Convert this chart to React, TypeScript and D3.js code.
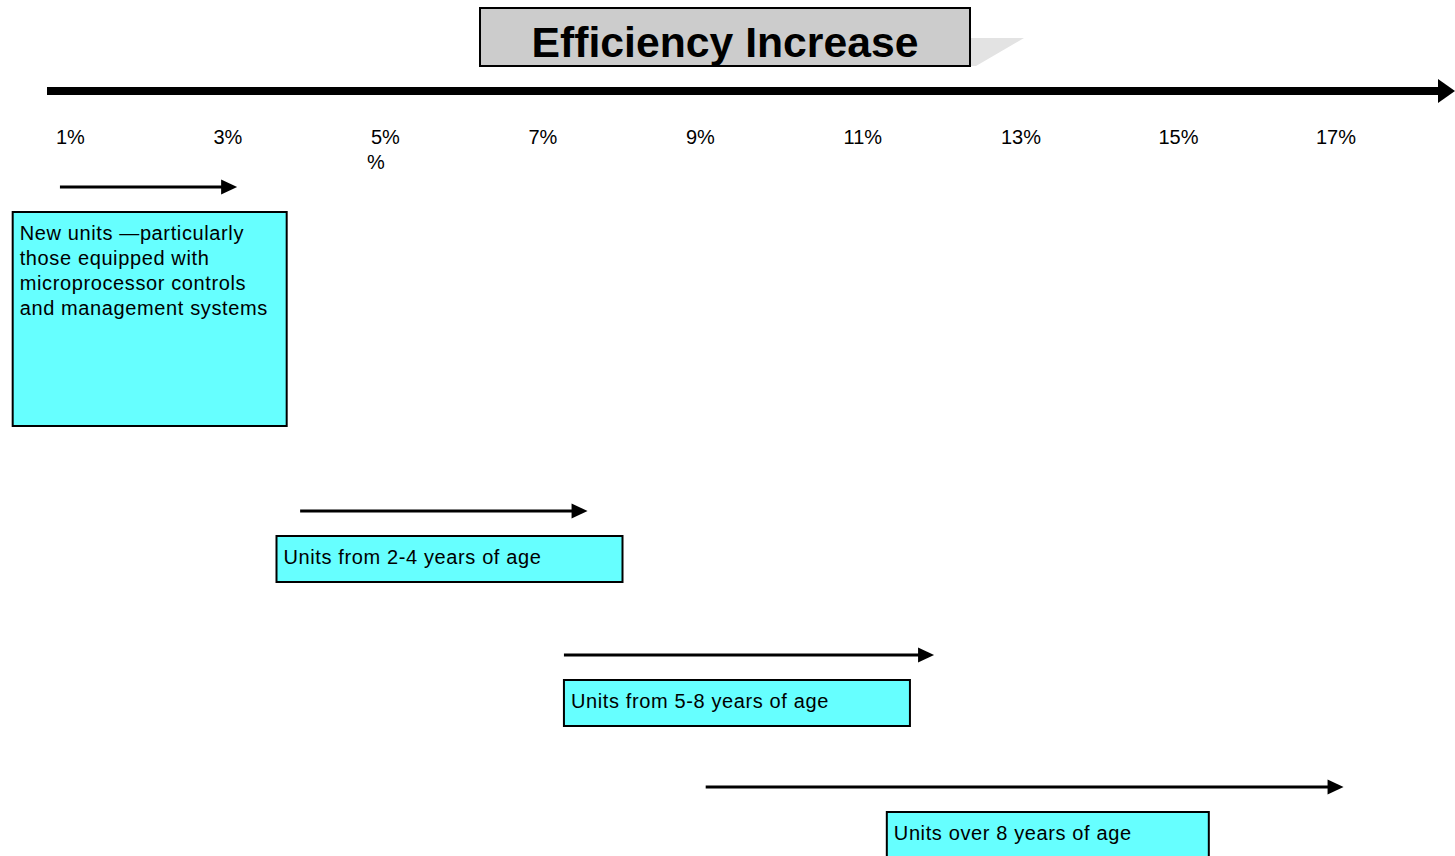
import React from 'react';
import * as d3 from 'd3';

// tick labels along the efficiency axis (percent)
const tickValues = [1, 3, 5, 7, 9, 11, 13, 15, 17];
// efficiency range for each unit group (percent)
const groups = [
  'New units \u2014particularly|those equipped with|microprocessor controls|and management systems',
  'Units from 2-4 years of age',
  'Units from 5-8 years of age',
  'Units over 8 years of age',
];
const rangeStart = [1.05, 4.1, 7.45, 9.25];
const rangeEnd = [3.3, 7.75, 12.15, 17.35];
const boxStart = [0.45, 3.8, 7.45, 11.55];

const W = 1455;
const H = 856;
const FONT = '"Liberation Sans", Arial, sans-serif';
// layout of the rows
const rowY = [187, 511, 655, 787];
const boxW = [274, 346, 346, 322];
const boxH = [214, 46, 46, 46];

class App extends React.Component {
  chartRef: any = null;

  componentDidMount() {
    const svg = d3.select(this.chartRef);
    svg.selectAll('*').remove();

    const x = d3.scaleLinear().domain([1, 17]).range([56, 1316]);

    svg.append('rect').attr('width', W).attr('height', H).attr('fill', '#fff');

    // title with its 3d shadow
    svg.append('polygon')
      .attr('points', '970,38 1024,38 976,66 970,66')
      .attr('fill', '#e3e3e3');
    svg.append('rect')
      .attr('x', 480).attr('y', 8).attr('width', 490).attr('height', 58)
      .attr('fill', '#cccccc').attr('stroke', '#000').attr('stroke-width', 2);
    svg.append('text')
      .attr('x', 725).attr('y', 56.5)
      .attr('text-anchor', 'middle')
      .attr('font-family', FONT).attr('font-weight', 'bold').attr('font-size', 42.7)
      .text('Efficiency Increase');

    // main axis arrow
    svg.append('line')
      .attr('x1', 47).attr('x2', 1440).attr('y1', 91).attr('y2', 91)
      .attr('stroke', '#000').attr('stroke-width', 8);
    svg.append('polygon')
      .attr('points', '1438,79 1455,91 1438,103')
      .attr('fill', '#000');

    // tick labels
    const ticks = svg.append('g').attr('font-family', FONT).attr('font-size', 20);
    ticks.selectAll('text')
      .data(tickValues)
      .enter()
      .append('text')
      .attr('x', d => x(d))
      .attr('y', 144)
      .text(d => d + '%');
    // stray second "%" under 5%
    ticks.append('text').attr('x', x(5) - 4).attr('y', 169).text('%');

    // group arrows and boxes
    const gs = svg.selectAll('g.grp')
      .data(groups)
      .enter()
      .append('g')
      .attr('class', 'grp');

    gs.append('line')
      .attr('x1', (d, i) => x(rangeStart[i]))
      .attr('x2', (d, i) => x(rangeEnd[i]) - 14)
      .attr('y1', (d, i) => rowY[i])
      .attr('y2', (d, i) => rowY[i])
      .attr('stroke', '#000').attr('stroke-width', 3);
    gs.append('polygon')
      .attr('points', (d, i) => {
        const tx = x(rangeEnd[i]);
        const y = rowY[i];
        return `${tx - 16},${y - 7.5} ${tx},${y} ${tx - 16},${y + 7.5}`;
      })
      .attr('fill', '#000');

    gs.append('rect')
      .attr('x', (d, i) => x(boxStart[i]))
      .attr('y', (d, i) => rowY[i] + 25)
      .attr('width', (d, i) => boxW[i])
      .attr('height', (d, i) => boxH[i])
      .attr('fill', '#66ffff').attr('stroke', '#000').attr('stroke-width', 2);

    gs.each(function (d, i) {
      const t = d3.select(this).append('text')
        .attr('font-family', FONT).attr('font-size', 20)
        .attr('letter-spacing', 0.62)
        .attr('x', x(boxStart[i]) + 7)
        .attr('y', rowY[i] + 52.5);
      d.split('|').forEach((line, j) => {
        t.append('tspan')
          .attr('x', x(boxStart[i]) + 7)
          .attr('dy', j === 0 ? 0 : 25.3)
          .text(line);
      });
    });
  }

  render() {
    return (
      <svg
        ref={r => (this.chartRef = r)}
        width={W}
        height={H}
        style={{ position: 'absolute', left: 0, top: 0, display: 'block' }}
      />
    );
  }
}

export default App;
